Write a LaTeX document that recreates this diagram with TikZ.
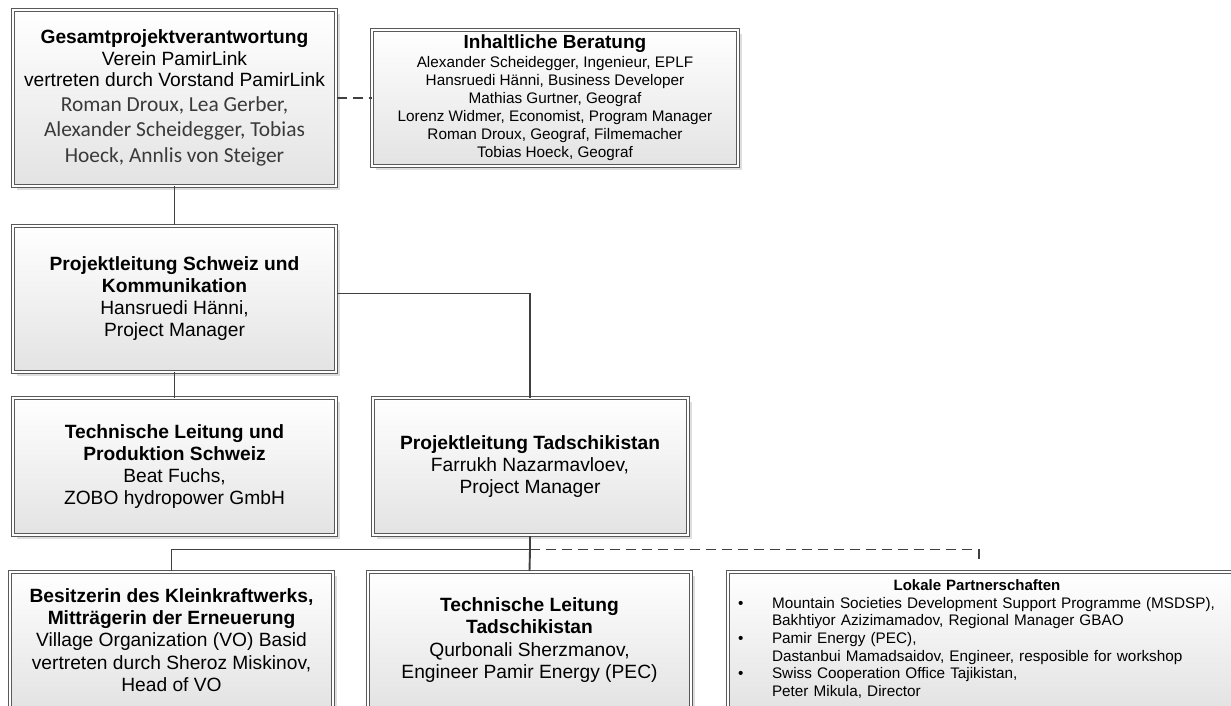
\documentclass[tikz,border=0pt]{standalone}
\usepackage{fontspec}
\setmainfont{Liberation Sans}
\newfontfamily\calfont{Carlito}
\usetikzlibrary{shadows}

\definecolor{namegray}{HTML}{3A3A3A}
\newcommand\calline[1]{{\calfont\fontsize{21.4}{25}\selectfont\color{namegray}#1}}
\newcommand\boxtitle[1]{{\bfseries #1}}

\begin{document}
\begin{tikzpicture}[x=1pt,y=-1pt,
       org box/.style={rectangle,draw=black!65,double=white,double distance=2pt,
         line width=1pt,top color=white,bottom color=black!11,
         drop shadow={shadow xshift=4pt,shadow yshift=-4pt,fill=black!13,opacity=1},
         align=center,inner sep=4pt,font=\fontsize{19.2}{22.3}\selectfont},
       link/.style={draw=black!75,line width=1.9pt},
       loose link/.style={link,dash pattern=on 10pt off 6pt}]

      \useasboundingbox (0,0) rectangle (1231,706);

      \node[org box,minimum width=323pt,minimum height=175pt,
            font=\fontsize{19.2}{21.5}\selectfont] at (174.5,98) (gesamt)
        {\boxtitle{Gesamtprojektverantwortung}\\
         Verein PamirLink\\
         vertreten durch Vorstand PamirLink\\[3pt]
         \calline{Roman Droux, Lea Gerber,}\\[4pt]
         \calline{Alexander Scheidegger, Tobias}\\[4pt]
         \calline{Hoeck, Annlis von Steiger}};
      \node[org box,minimum width=366pt,minimum height=135pt,
            font=\fontsize{15.3}{18}\selectfont] at (555,98) (beratung)
        {{\fontsize{19}{18}\selectfont\bfseries Inhaltliche Beratung}\\[1pt]
         Alexander Scheidegger, Ingenieur, EPLF\\
         Hansruedi H\"anni, Business Developer\\
         Mathias Gurtner, Geograf\\
         Lorenz Widmer, Economist, Program Manager\\
         Roman Droux, Geograf, Filmemacher\\
         Tobias Hoeck, Geograf};

      \node[org box,minimum width=323pt,minimum height=146pt] at (174.5,298.5) (plch)
        {\boxtitle{Projektleitung Schweiz und}\\
         \boxtitle{Kommunikation}\\
         Hansruedi H\"anni,\\
         Project Manager};

      \node[org box,minimum width=323pt,minimum height=137pt] at (174.5,466.5) (techch)
        {\boxtitle{Technische Leitung und}\\
         \boxtitle{Produktion Schweiz}\\
         Beat Fuchs,\\
         ZOBO hydropower GmbH};
      \node[org box,minimum width=315pt,minimum height=137pt] at (530,466.5) (pltj)
        {\boxtitle{Projektleitung Tadschikistan}\\
         Farrukh Nazarmavloev,\\
         Project Manager};

      \node[org box,minimum width=323pt,minimum height=137pt] at (171.5,640) (besitz)
        {\boxtitle{Besitzerin des Kleinkraftwerks,}\\
         \boxtitle{Mittr\"agerin der Erneuerung}\\
         Village Organization (VO) Basid\\
         vertreten durch Sheroz Miskinov,\\
         Head of VO};
      \node[org box,minimum width=323pt,minimum height=137pt] at (529.5,640) (techtj)
        {\boxtitle{Technische Leitung}\\
         \boxtitle{Tadschikistan}\\
         Qurbonali Sherzmanov,\\
         Engineer Pamir Energy (PEC)};
      \node[org box,minimum height=137pt,text width=500pt,align=left,
            font=\fontsize{15.3}{17.6}\selectfont] at (982,640) (partner)
        {\begin{tabular}{@{\hspace{6pt}}p{34pt}@{}p{450pt}@{}}
           \multicolumn{2}{@{}c@{}}{\fontsize{15}{17.6}\selectfont\bfseries Lokale Partnerschaften}\\
           \textbullet & Mountain Societies Development Support Programme (MSDSP),\\
                       & Bakhtiyor Azizimamadov, Regional Manager GBAO\\
           \textbullet & Pamir Energy (PEC),\\
                       & Dastanbui Mamadsaidov, Engineer, resposible for workshop\\
           \textbullet & Swiss Cooperation Office Tajikistan,\\
                       & Peter Mikula, Director
         \end{tabular}};
      \coordinate (partnerlink) at (979,560);

      % connectors
      \draw[link] (gesamt) -- (plch);
      \draw[loose link] (gesamt) -- (beratung);
      \draw[link] (plch) -- (techch);
      \draw[link] ([yshift=5pt]plch.east) -| (pltj.north);
      \draw[link] (pltj.south) -- ++(0,14) coordinate (bus);
      \draw[link] (bus) -| (besitz.north);
      \draw[link] (bus) -- (techtj.north);
      \draw[loose link] (bus) -| (partnerlink);

    \end{tikzpicture}
\end{document}
